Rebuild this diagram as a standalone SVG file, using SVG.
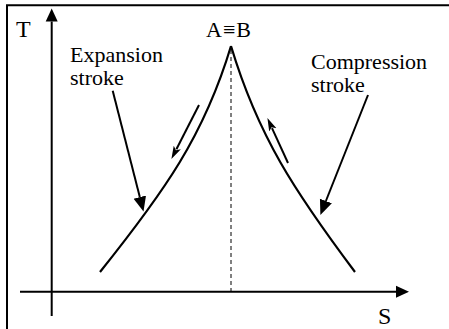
<svg xmlns="http://www.w3.org/2000/svg" width="449" height="329" viewBox="0 0 449 329">
  <style>
    .frame { fill: none; stroke: #000; stroke-width: 2; }
    .axis { fill: none; stroke: #000; stroke-width: 2; }
    .curve { fill: none; stroke: #000; stroke-width: 2.2; }
    .ptr { fill: none; stroke: #000; stroke-width: 2; }
    .dash { fill: none; stroke: #000; stroke-width: 1; stroke-dasharray: 4 3; }
  </style>
  <defs>
    <marker id="axisHead" markerUnits="userSpaceOnUse" markerWidth="14" markerHeight="14" refX="0" refY="6" orient="auto" viewBox="0 0 14 12">
      <path d="M0,0 L13,6 L0,12 z" fill="#000"/>
    </marker>
    <marker id="ptrHead" markerUnits="userSpaceOnUse" markerWidth="16" markerHeight="14" refX="0" refY="6" orient="auto" viewBox="0 0 15 12">
      <path d="M0,0 L14,6 L0,12 z" fill="#000"/>
    </marker>
    <marker id="smallHead" markerUnits="userSpaceOnUse" markerWidth="14" markerHeight="10" refX="2" refY="4" orient="auto" viewBox="0 0 14 8">
      <path d="M0,0 L13,4 L0,8 L3,4 z" fill="#000"/>
    </marker>
  </defs>

  <g id="frame">
    <path class="frame" d="M7,329 V5.3 H449"/>
  </g>

  <g id="axes">
    <line id="axis-T" class="axis" x1="51.7" y1="316" x2="51.7" y2="21.5" marker-end="url(#axisHead)"/>
    <line id="axis-S" class="axis" x1="20" y1="291.7" x2="396" y2="291.7" marker-end="url(#axisHead)"/>
    <line id="dash-AB" class="dash" x1="231" y1="50" x2="231" y2="291"/>
  </g>

  <g id="curves">
    <path id="expansion-curve" class="curve" d="M100,272 C164,192 204,136 231,46"/>
    <path id="compression-curve" class="curve" d="M355,272 C295,192 258,136 231,46"/>
  </g>

  <g id="connectors">
    <line class="ptr" x1="112.7" y1="90.7" x2="139.8" y2="197.1" marker-end="url(#ptrHead)"/>
    <line class="ptr" x1="368" y1="95" x2="325.9" y2="201" marker-end="url(#ptrHead)"/>
    <line class="ptr" x1="199" y1="105" x2="176.4" y2="149.3" marker-end="url(#smallHead)"/>
    <line class="ptr" x1="288" y1="163" x2="272" y2="128.1" marker-end="url(#smallHead)"/>
  </g>

  <g id="labels" font-size="22" fill="#000" font-family="'Liberation Serif', 'Times New Roman', serif">
    <text id="label-T" x="16" y="37" font-size="24">T</text>
    <text id="label-AB" x="229" y="37" text-anchor="middle" letter-spacing="1">A≡B</text>
    <text id="label-S" x="378" y="324" font-size="24">S</text>
    <g id="label-expansion">
      <text x="70" y="62">Expansion</text>
      <text x="70" y="85">stroke</text>
    </g>
    <g id="label-compression">
      <text x="311" y="68.5">Compression</text>
      <text x="311" y="91.5">stroke</text>
    </g>
  </g>
</svg>
